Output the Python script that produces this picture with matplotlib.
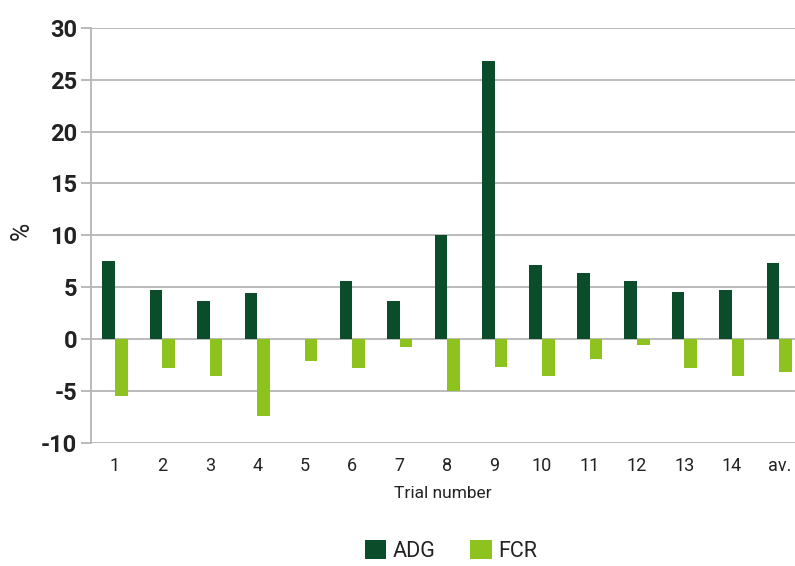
import matplotlib.pyplot as plt
import numpy as np

trials = ['1', '2', '3', '4', '5', '6', '7', '8', '9', '10', '11', '12', '13', '14', 'av.']
adg = [7.5, 4.7, 3.7, 4.4, 0.0, 5.6, 3.7, 10.0, 26.8, 7.1, 6.4, 5.6, 4.5, 4.7, 7.3]
fcr = [-5.5, -2.8, -3.6, -7.4, -2.1, -2.8, -0.8, -5.0, -2.7, -3.6, -1.9, -0.55, -2.8, -3.6, -3.2]

dark = '#0b4d2a'
light = '#8dc21f'
grid_c = '#b5b5b5'
txt = '#222222'

plt.rcParams['font.family'] = ['Roboto', 'DejaVu Sans']
plt.rcParams['axes.unicode_minus'] = False

fig = plt.figure(figsize=(7.95, 5.66), dpi=100)
ax = fig.add_axes([0.1145, 0.218, 0.8855, 0.7325])

x = np.arange(len(trials))
w = 0.265
ax.bar(x - w / 2, adg, width=w, color=dark, label='ADG', zorder=3)
ax.bar(x + w / 2, fcr, width=w, color=light, label='FCR', zorder=3)

ax.set_ylim(-10, 30)
ax.set_xlim(-0.505, 14.33)
ax.set_yticks(range(-10, 31, 5))
ax.yaxis.grid(True, color=grid_c, linewidth=1.3, zorder=0)
ax.set_axisbelow(True)

for s in ['top', 'right', 'bottom']:
    ax.spines[s].set_visible(False)
ax.spines['left'].set_color(grid_c)
ax.spines['left'].set_linewidth(1.3)

ax.tick_params(axis='y', length=7, width=1.3, color=grid_c, pad=3,
               labelsize=17, labelcolor=txt)
for lab in ax.get_yticklabels():
    lab.set_fontweight('bold')
ax.set_xticks(x)
ax.set_xticklabels(trials)
ax.tick_params(axis='x', length=0, pad=10, labelsize=13, labelcolor=txt)

ax.set_ylabel('%', fontsize=18, color=txt)
ax.yaxis.set_label_coords(-0.082, 0.51)
ax.set_xlabel('Trial number', fontsize=12.5, color=txt, labelpad=8)

fig.legend(loc='center', bbox_to_anchor=(0.567, 0.027), ncol=2, frameon=False,
           fontsize=15.5, handlelength=1.0, handleheight=1.0, handletextpad=0.3,
           columnspacing=1.6, labelcolor=txt)

fig.savefig('out.png', dpi=100)
